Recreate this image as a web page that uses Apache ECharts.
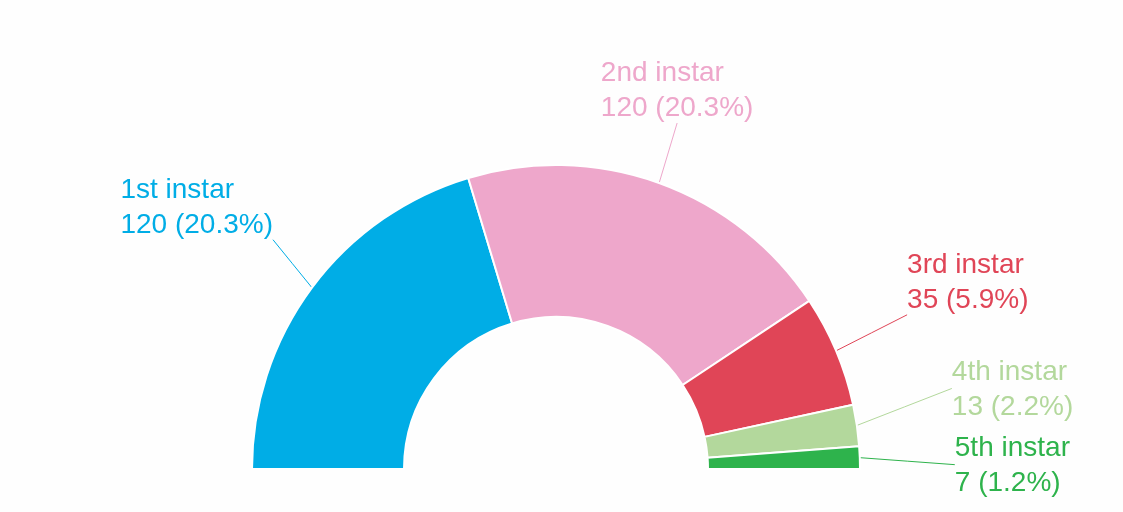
<!DOCTYPE html>
<html>
<head>
<meta charset="utf-8">
<script src="https://cdn.jsdelivr.net/npm/echarts@6/dist/echarts.min.js"></script>
<style>
html,body{margin:0;padding:0;background:#fefefe;}
#chart{width:1123px;height:512px;}
</style>
</head>
<body>
<div id="chart"></div>
<script>
// Data
var categories = ['1st instar', '2nd instar', '3rd instar', '4th instar', '5th instar'];
var counts = [120, 120, 35, 13, 7];
var colors = ['#00ADE6', '#EEA7CB', '#E04557', '#B3D89C', '#2EB34C'];

// Label placement (layout only): offset of label-line end from arc anchor, and block alignment
var labelOffsets = [[-39, -48], [18, -60], [71, -36], [95, -37], [95, 7]];
var labelAligns = [['right', 'bottom'], ['center', 'bottom'], ['left', 'bottom'], ['left', 'middle'], ['left', 'middle']];

var visibleSum = counts.reduce(function (a, b) { return a + b; }, 0);
var grandTotal = visibleSum * 2;

var pieData = categories.map(function (name, i) {
  return {
    name: name,
    value: counts[i],
    itemStyle: { color: colors[i] },
    label: { color: colors[i] },
    labelLine: { lineStyle: { color: colors[i], width: 1 } }
  };
});
pieData.push({
  name: 'hidden',
  value: visibleSum,
  itemStyle: { color: 'none', borderWidth: 0 },
  label: { show: false },
  labelLine: { show: false },
  tooltip: { show: false },
  emphasis: { disabled: true }
});

var chart = echarts.init(document.getElementById('chart'), null, { renderer: 'canvas' });
chart.setOption({
  backgroundColor: '#fefefe',
  animation: false,
  series: [{
    type: 'pie',
    center: [556, 469],
    radius: [152, 304],
    startAngle: 180,
    clockwise: true,
    avoidLabelOverlap: false,
    silent: true,
    itemStyle: { borderColor: '#ffffff', borderWidth: 2 },
    label: {
      show: true,
      position: 'outside',
      fontFamily: 'Liberation Sans, Arial, sans-serif',
      fontSize: 28,
      lineHeight: 35,
      formatter: function (p) {
        return p.name + '\n' + p.value + ' (' + (p.value / grandTotal * 100).toFixed(1) + '%)';
      }
    },
    labelLine: { show: true, length: 20, length2: 0, smooth: false },
    labelLayout: function (params) {
      var i = params.dataIndex;
      if (i >= categories.length) return {};
      var pts = params.labelLinePoints;
      if (!pts || !pts[0]) return {};
      var anchor = pts[0];
      var off = labelOffsets[i];
      var end = [anchor[0] + off[0], anchor[1] + off[1]];
      var mid = [(anchor[0] + end[0]) / 2, (anchor[1] + end[1]) / 2];
      var al = labelAligns[i];
      var w = params.labelRect ? params.labelRect.width : 0;
      var x = end[0];
      if (al[0] === 'right') x = end[0] - w;
      else if (al[0] === 'center') x = end[0] - w / 2;
      var ty = al[1] === 'bottom' ? end[1] + 3 : end[1] + 1;
      return {
        x: x,
        y: ty,
        align: 'left',
        verticalAlign: al[1],
        labelLinePoints: [anchor, mid, end]
      };
    },
    data: pieData
  }]
});
</script>
</body>
</html>
